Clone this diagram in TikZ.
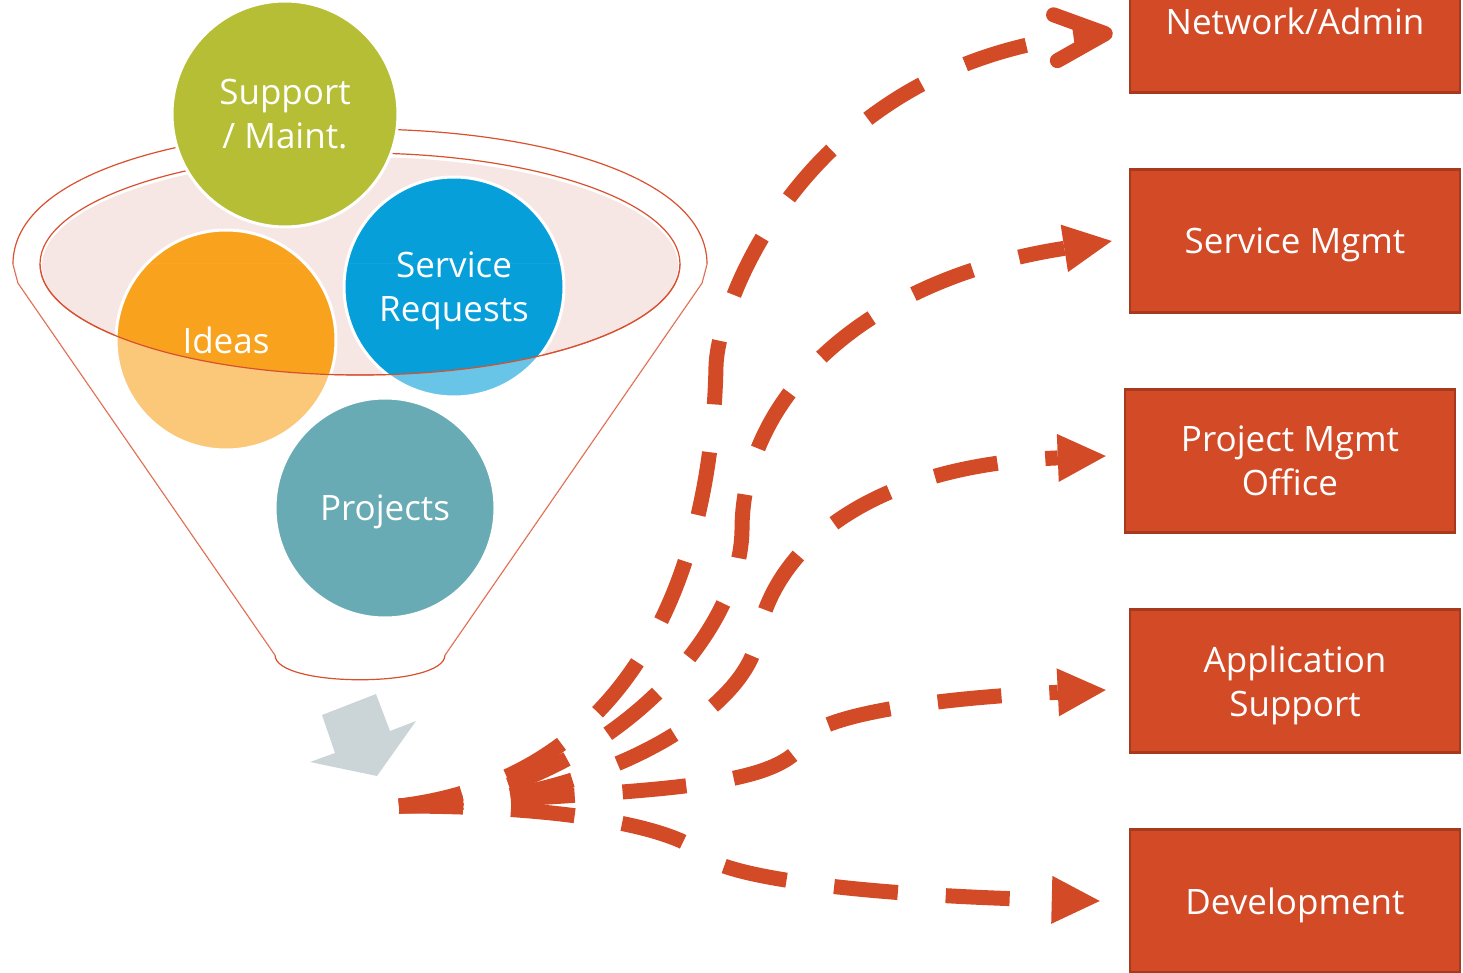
\documentclass[tikz,border=0pt]{standalone}
\usepackage{fontspec}
\setmainfont{Open Sans}
\usetikzlibrary{arrows.meta}
\definecolor{supportgreen}{RGB}{181,190,53}
\definecolor{ideaorange}{RGB}{249,162,30}
\definecolor{servblue}{RGB}{6,159,217}
\definecolor{projteal}{RGB}{104,171,180}
\definecolor{rimred}{RGB}{216,80,46}
\definecolor{rimpink}{RGB}{246,230,228}
\definecolor{arrowgray}{RGB}{203,213,216}
\definecolor{teamred}{RGB}{211,74,39}
\definecolor{teamedge}{RGB}{166,57,30}
\definecolor{flowred}{RGB}{211,74,39}
\newcommand{\bubblefont}{\fontsize{35}{44}\selectfont}

\begin{document}
\begin{tikzpicture}[x=1pt, y=-1pt,
    bubble/.style={circle, draw=white, line width=3pt, minimum size=220pt, inner sep=0pt, align=center, text=white, text depth=0pt, font=\bubblefont},
    team/.style={rectangle, fill=teamred, draw=teamedge, line width=2.5pt, minimum width=330pt, minimum height=143pt, align=center, text=white, text depth=-6pt, font=\bubblefont},
    flow/.style={draw=flowred, line width=15pt, dash pattern=on 64pt off 48pt},
    pointed/.style={-{Triangle[length=48pt, width=48pt, line width=0pt]}},
    barbed/.style={-{Straight Barb[length=50pt, width=46pt, round]}}]
    \useasboundingbox (0,0) rectangle (1463,973);

    % Funnel
    \draw[rimred, line width=1.2pt] (275,655) -- (18,283) -- (13,264) .. controls (13,84) and (707,84) .. (707,264) -- (702,283) -- (445,655) .. controls (445,688) and (275,688) .. (275,655);
    \fill[rimpink] (360,266) ellipse [x radius=318, y radius=109];
    \draw[rimred, line width=1.2pt] (360,264) ellipse [x radius=320, y radius=111];

    % Work coming in
    \node[bubble, fill=supportgreen, minimum size=226pt] (support) at (285,114) {Support\\/ Maint.};
    \node[bubble, fill=ideaorange] (ideas) at (226,340) {Ideas};
    \node[bubble, fill=servblue] (requests) at (454,287) {Service\\Requests};

    % Front of the funnel
    \begin{scope}
        \clip (0,264) rectangle (720,700);
        \clip (13,264) -- (18,283) -- (275,655) -- (445,655) -- (702,283) -- (707,264) -- cycle;
        \fill[white, opacity=0.4, even odd rule] (0,264) rectangle (720,700) (360,264) ellipse [x radius=320, y radius=111];
        \draw[rimred, line width=1.2pt] (360,264) ellipse [x radius=320, y radius=111];
    \end{scope}
    \node[bubble, fill=projteal] (projects) at (385,508) {Projects};

    % Out of the funnel
    \fill[arrowgray] (322,715) -- (376,694) -- (390,731) -- (416,721) -- (377,776) -- (310,762) -- (335,753) -- cycle;

    % Teams
    \foreach \name/\xpos/\ypos/\lab in {net/1295/21/Network\slash Admin, svc/1295/241/Service Mgmt, pmo/1290/461/{Project Mgmt\\Office}, app/1295/681/{Application\\Support}, dev/1295/901/Development} {
        \node[team] (\name) at (\xpos,\ypos) {\lab};
    }

    % Hand-offs
    \coordinate (hub) at (399,806);
    \draw[flow, barbed] (hub) .. controls (640,777) and (712,560) .. (716,366) .. controls (718,300) and (810,58) .. ([xshift=-16pt, yshift=-12pt]net.west);
    \draw[flow, pointed] (hub) .. controls (580,800) and (740,650) .. (742,530) .. controls (742,400) and (860,280) .. ([xshift=-17pt]svc.west);
    \draw[flow, pointed] (hub) .. controls (600,805) and (745,710) .. (757,640) .. controls (775,540) and (880,465) .. ([xshift=-18pt, yshift=5pt]pmo.west);
    \draw[flow, pointed] (hub) .. controls (650,790) and (780,790) .. (805,740) .. controls (815,720) and (900,700) .. ([xshift=-23pt, yshift=-9pt]app.west);
    \draw[flow, pointed] (hub) .. controls (580,806) and (680,830) .. (705,856) .. controls (725,876) and (850,895) .. ([xshift=-29pt]dev.west);
\end{tikzpicture}
\end{document}
